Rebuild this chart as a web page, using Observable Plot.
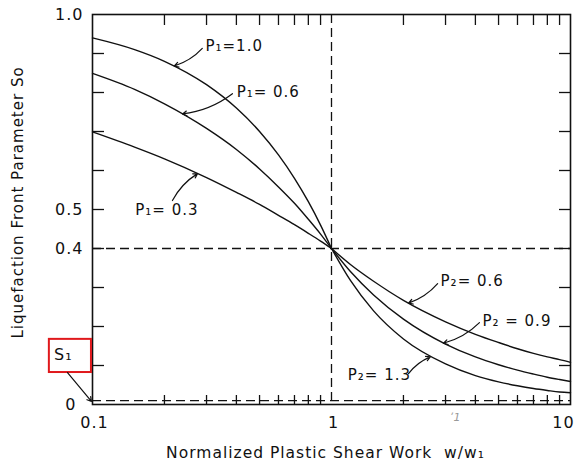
<!DOCTYPE html>
<html><head><meta charset="utf-8">
<script src="https://cdn.jsdelivr.net/npm/d3@7"></script>
<script src="https://cdn.jsdelivr.net/npm/@observablehq/plot@0.6"></script>
<style>
body{margin:0;background:#fff;}
</style></head><body><div id="chart"></div>
<script>
// ---- data ----
const xLeft  = [0.1, 0.15, 0.2, 0.3, 0.4, 0.5, 0.6, 0.7, 0.8, 0.9, 1.0];
const sP1_10 = [0.94, 0.91, 0.88, 0.82, 0.76, 0.70, 0.64, 0.58, 0.52, 0.46, 0.40];
const sP1_06 = [0.849, 0.808, 0.771, 0.708, 0.654, 0.604, 0.558, 0.516, 0.475, 0.437, 0.40];
const sP1_03 = [0.699, 0.660, 0.630, 0.582, 0.544, 0.513, 0.485, 0.461, 0.439, 0.419, 0.40];
const xRight = [1, 1.2, 1.5, 2, 3, 4, 5, 6, 7, 8, 9, 10];
const sP2_06 = [0.40, 0.359, 0.316, 0.267, 0.212, 0.180, 0.159, 0.143, 0.131, 0.122, 0.115, 0.108];
const sP2_09 = [0.40, 0.341, 0.281, 0.219, 0.155, 0.122, 0.102, 0.088, 0.078, 0.070, 0.064, 0.059];
const sP2_13 = [0.40, 0.318, 0.240, 0.168, 0.104, 0.074, 0.058, 0.048, 0.041, 0.036, 0.032, 0.030];
const S1 = 0.01;
const wRef = 1;      // w = w1
const sRef = 0.4;    // So at w = w1

const xTickLabels = [0.1, 1];
const xTickLast = [10];
const xMinorTicks = [0.2,0.3,0.4,0.5,0.6,0.7,0.8,0.9,2,3,4,5,6,7,8,9];
const yTickLabels = [0.4, 0.5, 1.0];
const yTickZero = [0];
const yMinorTicks = [0.1,0.2,0.3,0.4,0.5,0.6,0.7,0.8,0.9];

const curveNames = ["P1=1.0","P1=0.6","P1=0.3","P2=0.6","P2=0.9","P2=1.3"];
const xTitle = "Normalized Plastic Shear Work  w/w₁";
const yTitle = "Liquefaction Front Parameter So";

// label text + anchor in data coordinates
const labelText = ["P₁=1.0", "P₁= 0.6", "P₁= 0.3", "P₂= 0.6", "P₂ = 0.9", "P₂= 1.3"];
const labelX    = [0.297, 0.401, 0.151, 2.86, 4.28, 1.17];
const labelY    = [0.92, 0.80, 0.497, 0.315, 0.213, 0.074];
// leaders: from label to curve
const leadX1 = [0.288, 0.385, 0.216, 2.78, 4.16, 2.10];
const leadY1 = [0.913, 0.797, 0.523, 0.31, 0.21, 0.079];
const leadX2 = [0.22, 0.238, 0.275, 2.10, 2.94, 2.59];
const leadY2 = [0.868, 0.745, 0.592, 0.260, 0.157, 0.122];

// ---- build tables ----
const series = [];
[[sP1_10, xLeft], [sP1_06, xLeft], [sP1_03, xLeft], [sP2_06, xRight], [sP2_09, xRight], [sP2_13, xRight]]
  .forEach(([ys, xs], i) => xs.forEach((x, j) => series.push({name: curveNames[i], x, y: ys[j]})));
const labels = labelText.map((t, i) => ({t, x: labelX[i], y: labelY[i]}));
const leaders = leadX1.map((x1, i) => ({x1, y1: leadY1[i], x2: leadX2[i], y2: leadY2[i]}));

const W = 576, H = 467, mL = 92, mR = 6, mT = 14, mB = 63;
const pw = W - mL - mR, ph = H - mT - mB;
const dash = "9,5";
const ink = "#111";

const chart = Plot.plot({
  width: W, height: H,
  marginLeft: mL, marginRight: mR, marginTop: mT, marginBottom: mB,
  x: {type: "log", domain: [0.1, 10]},
  y: {domain: [0, 1]},
  style: {fontFamily: "DejaVu Sans", fontSize: "15px", color: ink, background: "#fff", letterSpacing: "1px"},
  marks: [
    Plot.ruleY([sRef], {stroke: ink, strokeWidth: 1.3, strokeDasharray: dash}),
    Plot.ruleX([wRef], {stroke: ink, strokeWidth: 1.3, strokeDasharray: dash}),
    Plot.ruleY([S1], {stroke: ink, strokeWidth: 1.3, strokeDasharray: dash}),
    Plot.tickX(xMinorTicks, {x: d => d, insetTop: ph - 9, stroke: ink, strokeWidth: 1.3}),
    Plot.tickX(xMinorTicks, {x: d => d, insetBottom: ph - 11, stroke: ink, strokeWidth: 1.3}),
    Plot.tickY(yMinorTicks, {y: d => d, insetRight: pw - 12, stroke: ink, strokeWidth: 1.3}),
    Plot.tickY(yMinorTicks, {y: d => d, insetLeft: pw - 11, stroke: ink, strokeWidth: 1.3}),
    Plot.frame({stroke: ink, strokeWidth: 1.6}),
    Plot.line(series, {x: "x", y: "y", z: "name", curve: "monotone-x", stroke: ink, strokeWidth: 1.4}),
    Plot.axisX({ticks: xTickLabels, tickSize: 0, tickPadding: 12, tickFormat: d => String(d), label: null, fontSize: 16, dx: 2}),
    Plot.axisX({ticks: xTickLast, tickSize: 0, tickPadding: 12, tickFormat: d => String(d), label: null, fontSize: 16, dx: -7}),
    Plot.axisY({ticks: yTickLabels, tickSize: 0, tickPadding: 9, tickFormat: d => d.toFixed(1), label: null, fontSize: 16}),
    Plot.axisY({ticks: yTickZero, tickSize: 0, tickPadding: 16, tickFormat: d => "0", label: null, fontSize: 16}),
    Plot.text([xTitle], {frameAnchor: "bottom", dy: 53, dx: -6, fontSize: 15.5, fill: ink}),
    Plot.text([yTitle], {frameAnchor: "left", textAnchor: "middle", rotate: -90, dx: -74, dy: -7, fontSize: 15, fill: ink}),
    Plot.text(labels, {x: "x", y: "y", text: "t", textAnchor: "start", fontSize: 15, fill: ink}),
    Plot.arrow(leaders, {x1: "x1", y1: "y1", x2: "x2", y2: "y2", bend: 15, headLength: 6, stroke: ink, strokeWidth: 1.2}),
    // S1 marker outside the frame
    Plot.rect([{x1: 0.066, x2: 0.099, y1: 0.082, y2: 0.167}], {x1: "x1", x2: "x2", y1: "y1", y2: "y2", fill: "none", stroke: "#e0191c", strokeWidth: 2}),
    Plot.text(["S₁"], {x: 0.0755, y: 0.126, fontSize: 16, fill: ink}),
    Plot.arrow([{x1: 0.0786, y1: 0.082, x2: 0.099, y2: 0.008}], {x1: "x1", y1: "y1", x2: "x2", y2: "y2", headLength: 6, stroke: ink, strokeWidth: 1.2}),
    Plot.text(["ʹ1"], {x: 3.3, y: -0.033, fontSize: 11, fontStyle: "italic", fill: "#999"})
  ]
});
document.getElementById("chart").appendChild(chart);
</script>
</body></html>
